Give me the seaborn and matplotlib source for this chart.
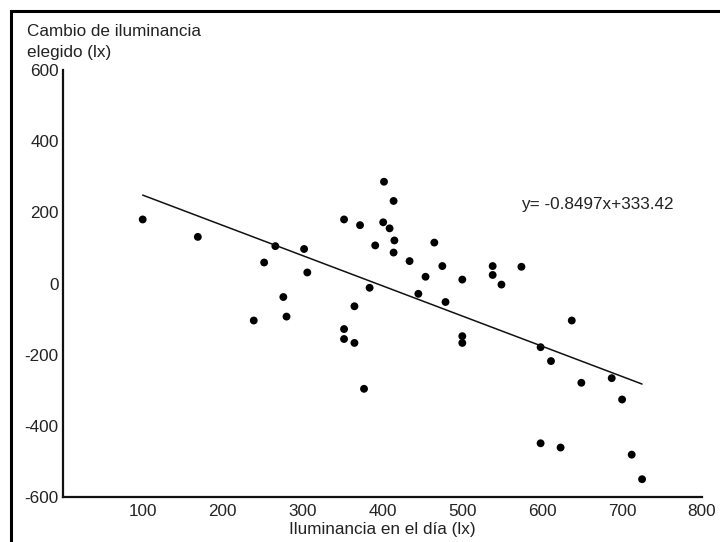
import matplotlib
matplotlib.use("Agg")
import matplotlib.pyplot as plt
import matplotlib.patches as mpatches
import numpy as np
import pandas as pd
import seaborn as sns

# Data
illum_day = [100, 169, 239, 252, 266, 276, 280, 302, 306, 352, 352, 352, 365, 365,
             372, 377, 384, 391, 401, 402, 409, 414, 415, 414, 434, 445, 454, 465,
             475, 479, 500, 500, 500, 538, 538, 549, 574, 598, 598, 611, 623, 637,
             649, 687, 700, 712, 725]
illum_change = [180, 131, -104, 59, 105, -38, -93, 97, 31, 180, -128, -156, -64, -167,
                164, -296, -12, 107, 172, 286, 155, 232, 121, 87, 63, -29, 19, 115,
                49, -52, 11, -148, -167, 49, 24, -3, 47, -179, -449, -218, -461, -104,
                -279, -266, -326, -481, -550]
slope = -0.8497
intercept = 333.42
equation_label = "y= -0.8497x+333.42"
x_ticks = [100, 200, 300, 400, 500, 600, 700, 800]
y_ticks = [-600, -400, -200, 0, 200, 400, 600]
y_title = "Cambio de iluminancia\nelegido (lx)"
x_title = "Iluminancia en el día (lx)"

df = pd.DataFrame({"x": illum_day, "y": illum_change})
xs = np.array([min(illum_day), max(illum_day)], dtype=float)
fit = pd.DataFrame({"x": xs, "y": slope * xs + intercept})

sns.set_style("white")
plt.rcParams["font.family"] = ["Liberation Sans", "DejaVu Sans"]
plt.rcParams["axes.unicode_minus"] = False

FS = 12.3
TXT = "#222222"

fig = plt.figure(figsize=(7.2, 5.42), dpi=100)
ax = fig.add_axes([62.8 / 720, 1 - 497 / 542, (702 - 62.8) / 720, (497 - 70) / 542])

sns.scatterplot(data=df, x="x", y="y", ax=ax, color="black", s=32,
                edgecolor="none", linewidth=0, legend=False)
sns.lineplot(data=fit, x="x", y="y", ax=ax, color="#111111", linewidth=1.1,
             legend=False)

ax.set_xlim(0, 800)
ax.set_ylim(-600, 600)
ax.set_xticks(x_ticks)
ax.set_yticks(y_ticks)
ax.set_xticklabels([str(t) for t in x_ticks])
ax.set_yticklabels([str(t) for t in y_ticks])
ax.set_xlabel(x_title, fontsize=FS, color=TXT, labelpad=2.5)
ax.set_ylabel("")

for side in ["top", "right"]:
    ax.spines[side].set_visible(False)
for side in ["left", "bottom"]:
    ax.spines[side].set_linewidth(1.6)
    ax.spines[side].set_color("#111111")

ax.tick_params(axis="both", direction="in", length=4, width=1.4, color="#111111",
               labelsize=FS, labelcolor=TXT)
ax.tick_params(axis="x", pad=5)
ax.tick_params(axis="y", pad=3)

ax.text(574, 223, equation_label, fontsize=FS, color=TXT,
        ha="left", va="center")

fig.text(27 / 720, 1 - 23.5 / 542, y_title, fontsize=FS, color=TXT,
         ha="left", va="top", linespacing=1.5)

border = mpatches.Rectangle((11 / 720, -0.2), 1.5, 1.0 - 10.5 / 542 + 0.2,
                            transform=fig.transFigure, fill=False,
                            edgecolor="black", linewidth=2.2, clip_on=False)
fig.patches.append(border)

fig.savefig("out.png", dpi=100)
